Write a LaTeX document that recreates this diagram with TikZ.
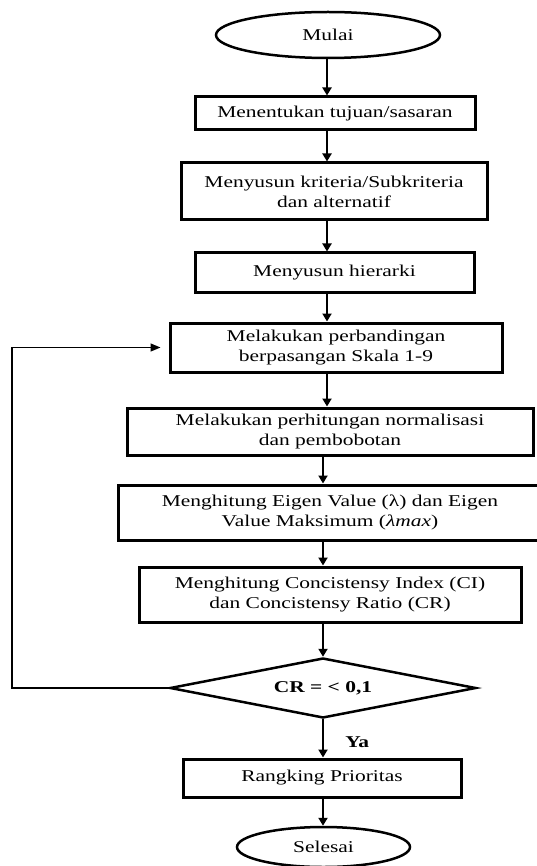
\documentclass[tikz,border=0pt]{standalone}
\usepackage{fontspec}
\setmainfont{Liberation Serif}[FakeStretch=1.3]
\usetikzlibrary{shapes.geometric,arrows.meta,positioning}

\begin{document}
\begin{tikzpicture}[x=1pt, y=-1pt,
		font=\fontsize{16.5}{20}\selectfont,
		box/.style={draw, line width=3pt, inner sep=0pt, align=center},
		term/.style={draw, ellipse, line width=2.5pt, inner sep=0pt},
		cond/.style={draw, diamond, line width=2.5pt, inner sep=0pt, aspect=5.1},
		arr/.style={line width=2pt, -{Triangle[length=8pt,width=9pt]}},
		back/.style={line width=1.3pt, -{Triangle[length=10pt,width=8pt]}, shorten >=8pt}]
	\useasboundingbox (0,0) rectangle (537,866);
	\coordinate (ax1) at (327,0);
	\coordinate (ax2) at (323,0);
	\node[term, minimum width=224pt, minimum height=46pt] (mulai) at (328,35) {Mulai};
	\node[box, minimum width=280pt, minimum height=33pt] (b1) at (335,113.5) {Menentukan tujuan/sasaran};
	\node[box, minimum width=306pt, minimum height=57pt] (b2) at (334,191.5) {Menyusun kriteria/Subkriteria\\dan alternatif};
	\node[box, minimum width=279pt, minimum height=39pt] (b3) at (334.5,272.5) {Menyusun hierarki};
	\node[box, minimum width=332pt, minimum height=49pt] (b4) at (336,347.5) {Melakukan perbandingan\\berpasangan Skala 1-9};
	\node[box, minimum width=406pt, minimum height=47pt] (b5) at (330,431.5) {Melakukan perhitungan normalisasi\\dan pembobotan};
	\node[box, minimum width=424pt, minimum height=55pt] (b6) at (330,512.5) {Menghitung Eigen Value (λ) dan Eigen\\Value Maksimum (\textit{λmax})};
	\node[box, minimum width=382pt, minimum height=55pt] (b7) at (330,594.5) {Menghitung Concistensy Index (CI)\\dan Concistensy Ratio (CR)};
	\node[cond, minimum width=306pt, minimum height=60pt] (dec) at (323,688) {\textbf{CR = < 0,1}};
	\node[box, minimum width=278pt, minimum height=38pt] (b8) at (322,778) {Rangking Prioritas};
	\node[term, minimum width=173pt, minimum height=40pt] (selesai) at (323.5,847) {Selesai};
	\foreach \a/\b/\c in {mulai/b1/ax1, b1/b2/ax1, b2/b3/ax1, b3/b4/ax1, b4/b5/ax1, b5/b6/ax2, b6/b7/ax2, b7/dec/ax2, b8/selesai/ax2}
		\draw[arr] (\a.south -| \c) -- (\b.north -| \c);
	\draw[arr] (dec.south -| ax2) -- node[pos=0.6, right=18pt, font=\fontsize{16.5}{20}\selectfont\bfseries] (ya) {Ya} (b8.north -| ax2);
	\coordinate (loop) at (12,688);
	\draw[back] (dec.west) -- (loop) |- (b4.west);
\end{tikzpicture}
\end{document}
